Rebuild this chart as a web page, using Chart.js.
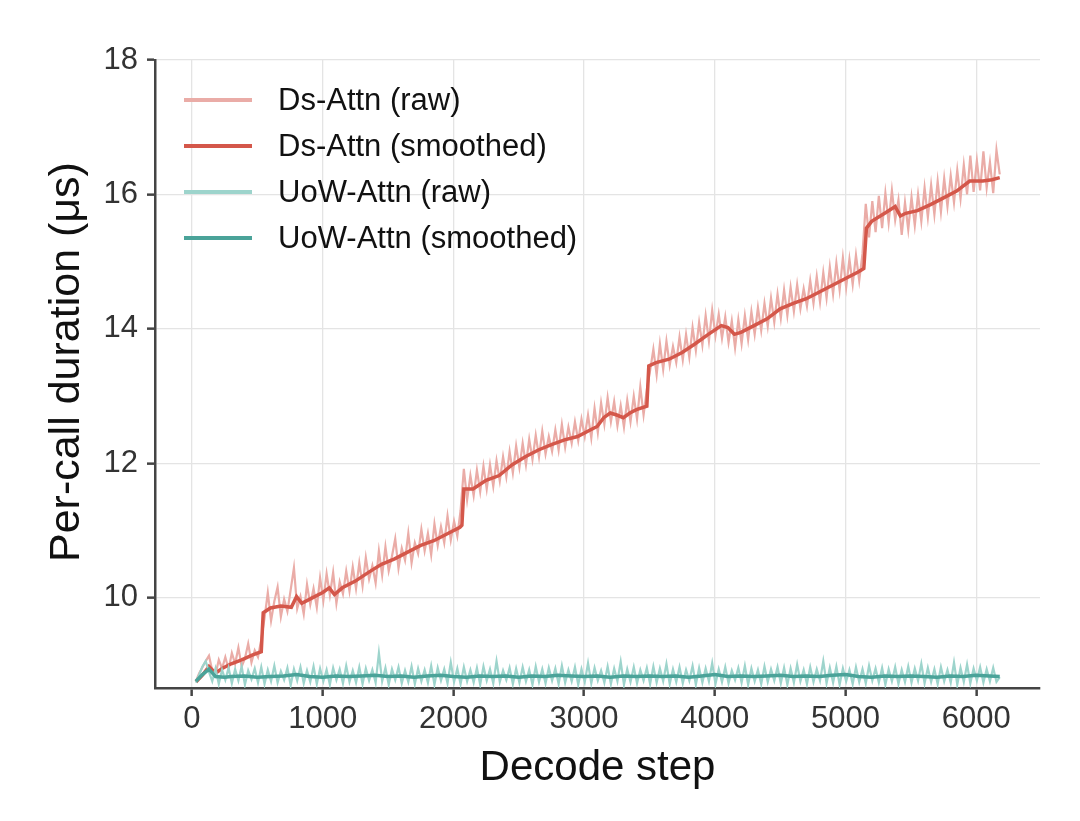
<!DOCTYPE html>
<html>
<head>
<meta charset="utf-8">
<script src="https://cdn.jsdelivr.net/npm/chart.js@4.4.1/dist/chart.umd.min.js"></script>
<style>
  html, body { margin: 0; padding: 0; background: #fff; }
  #wrap { width: 1080px; height: 821px; }
</style>
</head>
<body>
<div id="wrap"><canvas id="lineChart"></canvas></div>
<script>
// raw samples every 25 decode steps, starting at step 30
var rawStart = 30;
var rawEvery = 25;

var dsRaw = [
    8.76, 8.88, 8.97, 9.06, 9.14, 8.92, 8.86, 9.08, 8.95, 9.12,
    8.94, 9.18, 9.02, 9.26, 8.98, 9.10, 9.32, 9.04, 9.22, 9.12,
    9.38, 9.70, 10.08, 9.66, 9.95, 10.16, 9.72, 9.98, 9.80, 10.12,
    10.45, 9.84, 10.02, 9.76, 10.20, 9.90, 10.14, 9.86, 10.30, 9.96,
    10.36, 10.04, 10.38, 9.92, 10.24, 10.06, 10.40, 10.10, 10.46, 10.14,
    10.52, 10.18, 10.60, 10.28, 10.48, 10.22, 10.70, 10.34, 10.76, 10.40,
    10.62, 10.88, 10.44, 10.74, 10.56, 10.96, 10.52, 10.82, 10.66, 11.02,
    10.70, 10.96, 10.64, 11.10, 10.78, 11.06, 10.82, 11.22, 10.86, 11.14,
    10.92, 11.30, 11.92, 11.46, 11.82, 11.52, 11.90, 11.58, 11.96, 11.62,
    11.98, 11.66, 12.04, 11.74, 12.10, 11.80, 12.18, 11.86, 12.26, 11.94,
    12.30, 11.98, 12.36, 12.06, 12.42, 12.10, 12.48, 12.14, 12.40, 12.18,
    12.50, 12.20, 12.58, 12.24, 12.54, 12.30, 12.62, 12.34, 12.66, 12.40,
    12.72, 12.38, 12.82, 12.46, 12.90, 12.58, 12.98, 12.62, 12.92, 12.56,
    12.86, 12.54, 12.94, 12.62, 13.00, 12.66, 13.14, 12.72, 13.10, 13.38,
    13.70, 13.32, 13.78, 13.40, 13.82, 13.46, 13.74, 13.50, 13.88, 13.54,
    13.92, 13.58, 14.02, 13.68, 14.10, 13.76, 14.20, 13.82, 14.28, 13.90,
    14.22, 13.86, 14.18, 13.80, 14.12, 13.72, 14.14, 13.78, 14.20, 13.84,
    14.26, 13.92, 14.32, 13.98, 14.38, 14.04, 14.46, 14.10, 14.52, 14.16,
    14.58, 14.20, 14.62, 14.26, 14.66, 14.30, 14.60, 14.34, 14.72, 14.38,
    14.78, 14.40, 14.84, 14.46, 14.92, 14.52, 14.98, 14.58, 15.06, 14.62,
    15.04, 14.66, 15.10, 14.72, 15.12, 15.86, 15.36, 15.90, 15.44, 15.98,
    15.50, 16.02, 15.58, 16.06, 15.62, 15.92, 15.40, 15.88, 15.48, 15.96,
    15.54, 16.00, 15.60, 16.10, 15.66, 16.14, 15.70, 16.20, 15.74, 16.24,
    15.82, 16.28, 15.88, 16.36, 15.94, 16.44, 16.00, 16.58, 16.04, 16.50,
    16.06, 16.64, 16.10, 16.48, 16.02, 16.66, 16.30
];

var uowRaw = [
    8.74, 8.86, 8.98, 9.06, 8.90, 8.76, 8.95, 8.72, 8.93, 8.78,
    8.96, 8.73, 8.94, 8.77, 8.98, 8.71, 8.92, 8.79, 8.95, 8.74,
    8.97, 8.72, 8.93, 8.76, 8.99, 8.74, 8.91, 8.78, 8.96, 8.70,
    8.94, 8.77, 8.97, 8.73, 8.92, 8.75, 8.98, 8.72, 8.95, 8.76,
    8.93, 8.71, 8.96, 8.78, 8.94, 8.73, 8.99, 8.75, 8.92, 8.74,
    8.97, 8.72, 8.95, 8.77, 8.93, 8.74, 9.18, 8.76, 8.96, 8.71,
    8.94, 8.78, 8.97, 8.73, 8.92, 8.75, 8.98, 8.72, 8.95, 8.76,
    8.93, 8.74, 8.99, 8.71, 8.96, 8.77, 8.94, 8.73, 9.04, 8.75,
    8.95, 8.72, 8.97, 8.76, 8.93, 8.74, 8.96, 8.71, 8.98, 8.77,
    8.94, 8.73, 9.06, 8.75, 8.92, 8.78, 8.96, 8.72, 8.95, 8.74,
    8.97, 8.76, 8.93, 8.71, 8.98, 8.75, 8.94, 8.73, 8.96, 8.77,
    8.95, 8.72, 8.99, 8.74, 8.93, 8.76, 8.97, 8.71, 8.94, 8.75,
    9.03, 8.73, 8.96, 8.77, 8.92, 8.74, 8.98, 8.72, 8.95, 8.76,
    9.05, 8.71, 8.94, 8.75, 8.97, 8.73, 8.93, 8.77, 8.96, 8.72,
    8.98, 8.74, 8.95, 8.76, 9.02, 8.72, 8.94, 8.75, 8.97, 8.73,
    8.93, 8.77, 8.99, 8.71, 8.96, 8.74, 8.95, 8.76, 9.03, 8.72,
    8.94, 8.75, 8.97, 8.73, 8.92, 8.78, 8.96, 8.74, 8.99, 8.71,
    8.95, 8.76, 8.93, 8.72, 8.98, 8.75, 8.94, 8.77, 8.97, 8.73,
    8.96, 8.71, 8.95, 8.74, 9.01, 8.76, 8.93, 8.72, 8.97, 8.75,
    8.94, 8.77, 9.06, 8.73, 8.96, 8.74, 8.98, 8.71, 8.95, 8.76,
    8.93, 8.72, 8.97, 8.75, 8.94, 8.73, 8.99, 8.77, 8.95, 8.74,
    8.96, 8.71, 8.94, 8.76, 8.97, 8.72, 8.93, 8.75, 8.98, 8.74,
    8.95, 8.77, 9.02, 8.73, 8.96, 8.75, 8.94, 8.72, 8.97, 8.76,
    8.93, 8.74, 9.04, 8.71, 8.96, 8.75, 9.01, 8.73, 8.95, 8.77,
    8.97, 8.74, 8.94, 8.76, 8.96, 8.75, 8.82
];

var dsSmoothSteps = [30, 80, 130, 180, 230, 300, 380, 460, 530, 545, 600, 680, 760, 800, 840, 920,
    1000, 1050, 1090, 1150, 1250, 1350, 1450, 1550, 1650, 1750, 1850, 1950, 2050, 2065, 2080,
    2150, 2250, 2350, 2450, 2550, 2650, 2750, 2850, 2950, 3050, 3100, 3150, 3200, 3250, 3300,
    3350, 3400, 3480, 3495, 3550, 3650, 3750, 3850, 3950, 4050, 4100, 4150, 4200, 4300, 4400,
    4500, 4600, 4700, 4800, 4900, 5000, 5100, 5140, 5160, 5200, 5300, 5380, 5420, 5460, 5550,
    5650, 5750, 5850, 5950, 6050, 6120, 6180];
var dsSmooth = [8.75, 8.85, 8.98, 8.88, 8.95, 9.02, 9.08, 9.15, 9.20, 9.78, 9.85, 9.88, 9.86, 10.02, 9.92, 10.00,
    10.08, 10.15, 10.05, 10.15, 10.25, 10.38, 10.50, 10.58, 10.68, 10.78, 10.85, 10.95, 11.05, 11.08, 11.62,
    11.62, 11.75, 11.82, 11.98, 12.10, 12.20, 12.28, 12.35, 12.40, 12.50, 12.55, 12.68, 12.75, 12.72, 12.68,
    12.75, 12.80, 12.85, 13.45, 13.50, 13.55, 13.65, 13.78, 13.92, 14.05, 14.02, 13.92, 13.95, 14.05, 14.15,
    14.30, 14.38, 14.45, 14.55, 14.65, 14.75, 14.85, 14.90, 15.50, 15.60, 15.72, 15.82, 15.68, 15.72, 15.76,
    15.85, 15.95, 16.05, 16.20, 16.20, 16.22, 16.25];

var uowSmoothSteps = [30, 80, 130, 180, 250, 300, 400, 500, 600, 700, 800, 900, 1000, 1100, 1200, 1300,
    1400, 1500, 1600, 1700, 1800, 1900, 2000, 2100, 2200, 2300, 2400, 2500, 2600, 2700, 2800, 2900,
    3000, 3100, 3200, 3300, 3400, 3500, 3600, 3700, 3800, 3900, 4000, 4100, 4200, 4300, 4400, 4500,
    4600, 4700, 4800, 4900, 5000, 5100, 5200, 5300, 5400, 5500, 5600, 5700, 5800, 5900, 6000, 6100, 6180];
var uowSmooth = [8.76, 8.86, 8.94, 8.83, 8.82, 8.83, 8.84, 8.82, 8.83, 8.84, 8.86, 8.83, 8.82, 8.84, 8.83, 8.84,
    8.85, 8.83, 8.84, 8.82, 8.84, 8.85, 8.83, 8.82, 8.84, 8.83, 8.84, 8.82, 8.84, 8.83, 8.85, 8.84,
    8.83, 8.84, 8.82, 8.84, 8.83, 8.84, 8.83, 8.84, 8.82, 8.84, 8.86, 8.83, 8.84, 8.83, 8.84, 8.85,
    8.83, 8.84, 8.83, 8.85, 8.86, 8.83, 8.82, 8.84, 8.83, 8.84, 8.83, 8.82, 8.84, 8.83, 8.85, 8.84, 8.83];

var xTicks = [0, 1000, 2000, 3000, 4000, 5000, 6000];
var yTicks = [10, 12, 14, 16, 18];

function rawPoints(values) {
    return values.map(function (v, i) { return { x: rawStart + i * rawEvery, y: v }; });
}
function pairPoints(steps, values) {
    return steps.map(function (s, i) { return { x: s, y: values[i] }; });
}

var FONT = '"Liberation Sans", Arial, Helvetica, sans-serif';

// legend drawn inside the plot, top left, without a frame
var insideLegend = {
    id: 'insideLegend',
    afterDatasetsDraw: function (chart) {
        var ctx = chart.ctx;
        var area = chart.chartArea;
        ctx.save();
        ctx.font = '31px ' + FONT;
        ctx.textBaseline = 'middle';
        chart.data.datasets.forEach(function (ds, i) {
            var y = area.top + 40 + i * 46;
            var x = area.left + 29;
            ctx.strokeStyle = ds.borderColor;
            ctx.lineWidth = 4;
            ctx.beginPath();
            ctx.moveTo(x, y);
            ctx.lineTo(x + 68, y);
            ctx.stroke();
            ctx.fillStyle = '#111';
            ctx.fillText(ds.label, x + 94, y + 1);
        });
        ctx.restore();
    }
};

var ctx = document.getElementById('lineChart').getContext('2d');
var chart = new Chart(ctx, {
    type: 'line',
    data: {
        datasets: [{
            label: 'Ds-Attn (raw)',
            data: rawPoints(dsRaw),
            borderColor: '#eaaca7',
            borderWidth: 2.2,
            order: 4
        }, {
            label: 'Ds-Attn (smoothed)',
            data: pairPoints(dsSmoothSteps, dsSmooth),
            borderColor: '#d4574a',
            borderWidth: 3.5,
            order: 3
        }, {
            label: 'UoW-Attn (raw)',
            data: rawPoints(uowRaw),
            borderColor: '#9dd4cc',
            borderWidth: 2.2,
            order: 2
        }, {
            label: 'UoW-Attn (smoothed)',
            data: pairPoints(uowSmoothSteps, uowSmooth),
            borderColor: '#4aa399',
            borderWidth: 3.5,
            order: 1
        }]
    },
    options: {
        animation: false,
        responsive: true,
        maintainAspectRatio: false,
        elements: {
            point: { radius: 0 },
            line: { tension: 0, fill: false }
        },
        layout: {
            padding: { left: 41, right: 40, top: 60, bottom: 0 }
        },
        plugins: {
            legend: { display: false },
            tooltip: { enabled: false }
        },
        scales: {
            x: {
                type: 'linear',
                min: -283,
                max: 6488,
                afterBuildTicks: function (scale) {
                    scale.ticks = xTicks.map(function (v) { return { value: v }; });
                },
                afterFit: function (scale) { scale.height = 133; },
                grid: { color: '#e4e4e4', lineWidth: 1.3, tickColor: '#444', tickWidth: 2.5, tickLength: 8 },
                border: { color: '#444', width: 2.5 },
                ticks: {
                    padding: 5,
                    color: '#333',
                    font: { family: FONT, size: 31 },
                    maxRotation: 0,
                    callback: function (v) { return String(v); }
                },
                title: {
                    display: true,
                    text: 'Decode step',
                    color: '#111',
                    font: { family: FONT, size: 42 },
                    padding: { top: 0, bottom: 27 }
                }
            },
            y: {
                min: 8.66,
                max: 18,
                afterBuildTicks: function (scale) {
                    scale.ticks = yTicks.map(function (v) { return { value: v }; });
                },
                afterFit: function (scale) { scale.width = 114; },
                grid: { color: '#e4e4e4', lineWidth: 1.3, tickColor: '#444', tickWidth: 2.5, tickLength: 8 },
                border: { color: '#444', width: 2.5 },
                ticks: {
                    padding: 9,
                    color: '#333',
                    font: { family: FONT, size: 31 },
                    callback: function (v) { return String(v); }
                },
                title: {
                    display: true,
                    text: '  Per-call duration (μs)',
                    color: '#111',
                    font: { family: FONT, size: 43 },
                    padding: { top: 0, bottom: 0 }
                }
            }
        }
    },
    plugins: [insideLegend]
});
</script>
</body>
</html>
